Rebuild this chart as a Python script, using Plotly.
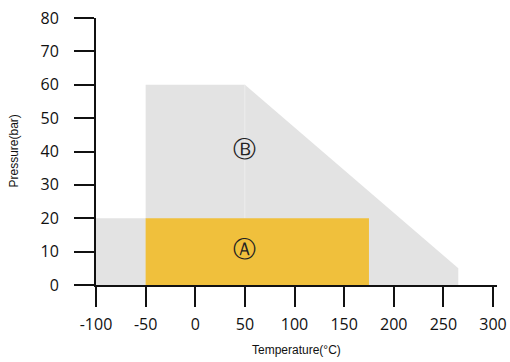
import plotly.graph_objects as go

# Region B (gray envelope) and region A (orange rectangle)
b_temp = [-100, -100, -50, -50, 50, 265, 265, -100]
b_pres = [0, 20, 20, 60, 60, 5, 0, 0]
a_temp = [-50, -50, 175, 175, -50]
a_pres = [0, 20, 20, 0, 0]
seam_temp = [50, 50]
seam_pres = [20, 60]
labels = ["Ⓑ", "Ⓐ"]
label_temp = [50, 50]
label_pres = [40, 10]
x_ticks = [-100, -50, 0, 50, 100, 150, 200, 250, 300]
x_ticktext = ["-100", "-50", "0", "50", "100", "150", "200", "250", "300"]
y_ticks = [0, 10, 20, 30, 40, 50, 60, 70, 80]

fig = go.Figure()
fig.add_trace(go.Scatter(x=b_temp, y=b_pres, fill="toself", mode="none",
                         fillcolor="#E3E3E3", hoverinfo="skip", showlegend=False))
fig.add_trace(go.Scatter(x=seam_temp, y=seam_pres, mode="lines",
                         line=dict(color="#EDEDED", width=1),
                         hoverinfo="skip", showlegend=False))
fig.add_trace(go.Scatter(x=a_temp, y=a_pres, fill="toself", mode="none",
                         fillcolor="#F0C03C", hoverinfo="skip", showlegend=False))
fig.add_trace(go.Scatter(x=label_temp, y=label_pres, mode="text", text=labels,
                         textfont=dict(size=23, color="#222", family="DejaVu Sans"),
                         showlegend=False, hoverinfo="skip"))

fig.update_layout(
    width=510, height=362,
    margin=dict(l=96, r=13, t=18, b=77),
    plot_bgcolor="white", paper_bgcolor="white",
    font=dict(family="Open Sans", color="#111"),
    annotations=[
        dict(text="Temperature(°C)", xref="paper", yref="paper", x=0.5, y=0,
             yshift=-65, yanchor="middle", showarrow=False,
             font=dict(size=12, family="Liberation Sans")),
        dict(text="Pressure(bar)", xref="paper", yref="paper", x=0, y=0.5,
             xshift=-83, xanchor="center", yanchor="middle", textangle=-90,
             showarrow=False, font=dict(size=12, family="Liberation Sans")),
    ],
)
fig.update_xaxes(
    range=[-100, 304], tickvals=x_ticks, ticktext=x_ticktext, ticks="outside",
    ticklen=20, tickwidth=2, automargin=False,
    tickcolor="#111", showline=True, linecolor="#111", linewidth=2,
    showgrid=False, zeroline=False, tickfont=dict(size=16), ticklabelstandoff=4,
)
fig.update_yaxes(
    range=[0, 80], tickvals=y_ticks, ticks="outside", ticklen=20, tickwidth=2,
    tickcolor="#111", showline=True, linecolor="#111", linewidth=2, automargin=False,
    showgrid=False, zeroline=False, tickfont=dict(size=16), ticklabelstandoff=12,
)
fig.write_html("out.html", config={"displayModeBar": False},
               post_script="document.body.style.margin='0';document.body.style.overflow='hidden';")
